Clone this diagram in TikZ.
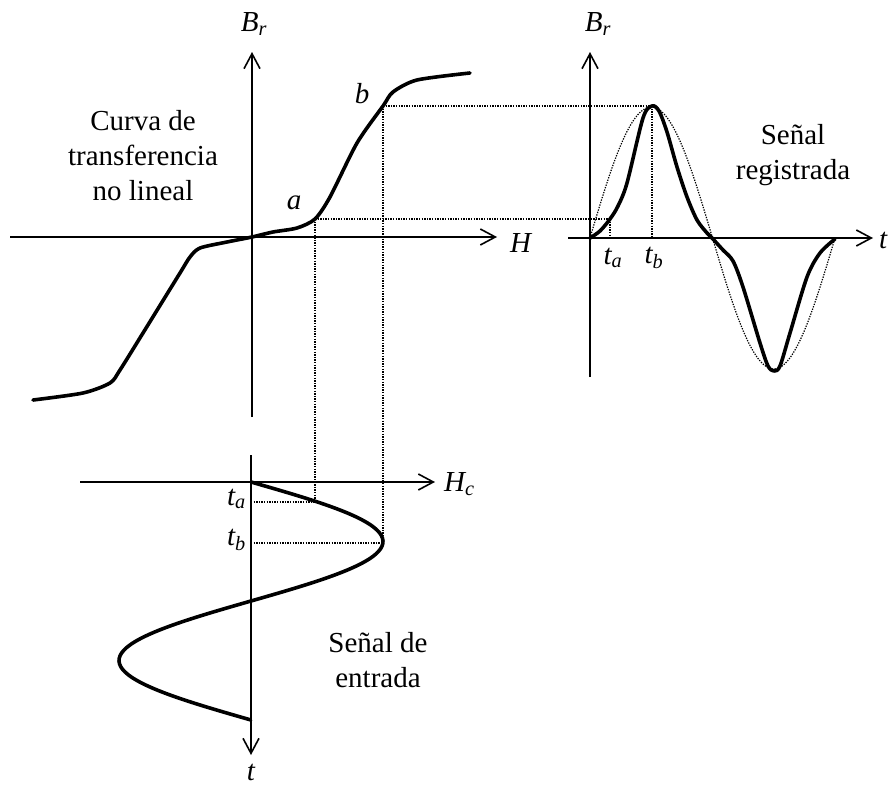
\documentclass[tikz,border=0pt]{standalone}
\usepackage{fontspec}
\setmainfont{Liberation Serif}
\usetikzlibrary{positioning, calc, arrows.meta}
\newcommand{\figsub}[2]{\textit{#1}\textsubscript{\itshape #2}}

\begin{document}
\begin{tikzpicture}[
  x=1pt, y=-1pt,
  figaxis/.style={
    line width=1.6pt, -{Straight Barb[length=15pt, width=16pt, line width=1.6pt]},
  },
  figcurve/.style={line width=3.6pt, line join=round, line cap=round},
  figguide/.style={line width=1.2pt, dash pattern=on 1.3pt off 1.3pt},
  figtext/.style={font=\fontsize{29}{35}\selectfont, align=center, inner sep=0pt},
  figlabel/.style={font=\fontsize{29}{32}\selectfont\itshape, inner sep=0pt},
]
\useasboundingbox (0,0) rectangle (892,787);

% transfer curve
\coordinate (figLorig) at (252,237);
\coordinate (figLxl) at (10,237);
\coordinate (figLxr) at (497,237);
\coordinate (figLyb) at (252,417);
\coordinate (figLyt) at (252,52);
\draw[figaxis] (figLxl) -- (figLxr);
\draw[figaxis] (figLyb) -- (figLyt);
\node[figlabel, anchor=west] (figH) at (510,243) {H};
\node[figlabel] (figBrL) at (254,24) {\figsub{B}{r}};
\node[figtext] (figcurvatxt) at (143,156) {Curva de\\transferencia\\no lineal};
\coordinate (figa) at (315,219);
\coordinate (figb) at (383,106);
\draw[figcurve] plot[smooth, tension=0.45] coordinates {
  (33,400) (83,393) (110,383) (120,370) (143,333) (180,273) (190,257)
  (200,248) (227,242) (252,237) (273,232) (297,228) (figa) (330,197)
  (357,143) (figb) (393,92) (417,80) (470,73)};
\node[figlabel] (figalbl) at (294,203) {a};
\node[figlabel] (figblbl) at (362,94) {b};

% recorded signal
\coordinate (figRxl) at (568,238);
\coordinate (figRxr) at (873,238);
\coordinate (figRyb) at (590,377);
\coordinate (figRyt) at (590,52);
\coordinate (figRa) at (610,219);
\coordinate (figRb) at (652,106);
\draw[figaxis] (figRxl) -- (figRxr);
\draw[figaxis] (figRyb) -- (figRyt);
\node[figlabel, anchor=west] (figtR) at (879,240) {t};
\node[figlabel] (figBrR) at (598,24) {\figsub{B}{r}};
\draw[figguide] plot[domain=0:1, samples=80, smooth] ({590+245*\x},{238-131*sin(360*\x)});
\draw[figcurve] plot[smooth, tension=0.5] coordinates {
  (590,238) (600,231) (figRa) (618,206) (627,183) (643,118) (figRb)
  (659,111) (667,132) (677,167) (687,197) (697,220) (707,233) (712,238)
  (723,250) (733,261) (743,287) (760,343) (768,366) (774,371) (780,366)
  (790,333) (807,277) (820,253) (835,239)};
\node[figtext] (figregtxt) at (793,155) {Señal\\registrada};
\node[figlabel] (figtaR) at (613,258) {\figsub{t}{a}};
\node[figlabel] (figtbR) at (654,258) {\figsub{t}{b}};

% input signal
\coordinate (figBxl) at (80,482);
\coordinate (figBxr) at (435,482);
\coordinate (figByt) at (251,455);
\coordinate (figByb) at (251,755);
\coordinate (figBa) at (315,502);
\coordinate (figBb) at (383,543);
\coordinate (figBta) at (251,502);
\coordinate (figBtb) at (251,543);
\draw[figaxis] (figBxl) -- (figBxr);
\draw[figaxis] (figByt) -- (figByb);
\node[figlabel, anchor=west] (figHc) at (444,484) {\figsub{H}{c}};
\node[figlabel] (figtB) at (251,772) {t};
\draw[figcurve] plot[domain=0:1, samples=90, smooth] ({251+132*sin(360*\x)}, {482+238*\x});
\node[figlabel, anchor=east] (figtaB) at (246,499) {\figsub{t}{a}};
\node[figlabel, anchor=east] (figtbB) at (246,540) {\figsub{t}{b}};
\node[figtext] (figenttxt) at (378,660) {Señal de\\entrada};

% projection guides
\draw[figguide] (figa) -- (figBa);
\draw[figguide] (figb) -- (figBb);
\draw[figguide] (figBta) -- (figBa);
\draw[figguide] (figBtb) -- (figBb);
\draw[figguide] (figa) -- (figRa);
\draw[figguide] (figb) -- (figRb);
\draw[figguide] (figRa) -- (figRa |- figRxl);
\draw[figguide] (figRb) -- (figRb |- figRxl);
\end{tikzpicture}
\end{document}
